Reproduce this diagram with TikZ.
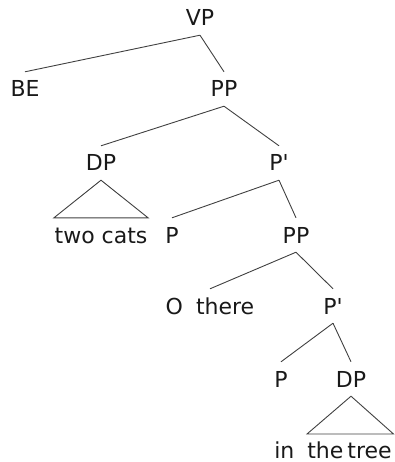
\documentclass[tikz,border=0pt]{standalone}
\usepackage{fontspec}
\setmainfont{DejaVu Sans}
\tikzset{
  cat/.style={font=\fontsize{22}{25}\selectfont, text=black!90, text height=16pt, text depth=0pt, inner ysep=9pt, inner xsep=0.5pt},
  br/.style={draw=black!75, line width=0.9pt},
  tri/.style={draw=black!75, line width=0.9pt, line join=miter}
}
\begin{document}
\begin{tikzpicture}[x=1pt,y=-1pt]
\useasboundingbox (0,0) rectangle (394,462);
\node[cat] (vp) at (200,18) {VP};
\node[cat] (be) at (25,89) {BE};
\node[cat] (pp1) at (224,89) {PP};
\node[cat] (dp1) at (101,163) {DP};
\node[cat] (pb1) at (279,163) {P\textquotesingle};
\node[cat] (twocats) at (101,235) {two cats};
\node[cat] (p1) at (172,235) {P};
\node[cat] (pp2) at (296,235) {PP};
\node[cat] (othere) at (210,306) {O\hspace{6pt} there};
\node[cat] (pb2) at (333,306) {P\textquotesingle};
\node[cat] (p2) at (281,379) {P};
\node[cat] (dp2) at (351,379) {DP};
\node[cat] (tree) at (333,450) {in\hspace{6pt} the\hspace{-3pt} tree};
\coordinate (t2l) at (307,434);
\coordinate (t2r) at (393.5,434);
\draw[br] (vp.south) -- (be.north);
\draw[br] (vp.south) -- (pp1.north);
\draw[br] (pp1.south) -- (dp1.north);
\draw[br] (pp1.south) -- (pb1.north);
\draw[tri] (dp1.south) -- (twocats.north west) -- (twocats.north east) -- cycle;
\draw[br] (pb1.south) -- (p1.north);
\draw[br] (pb1.south) -- (pp2.north);
\draw[br] (pp2.south) -- (othere.north);
\draw[br] (pp2.south) -- (pb2.north);
\draw[br] (pb2.south) -- (p2.north);
\draw[br] (pb2.south) -- (dp2.north);
\draw[tri] (dp2.south) -- (t2l) -- (t2r) -- cycle;
\end{tikzpicture}
\end{document}
